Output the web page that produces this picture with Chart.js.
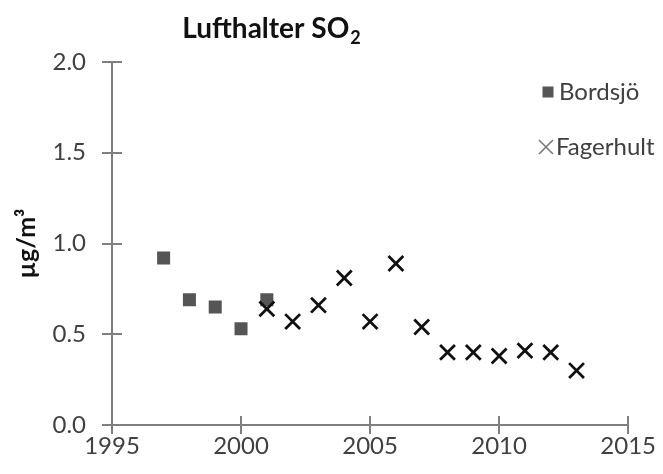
<!DOCTYPE html>
<html>
<head>
<meta charset="utf-8">
<script src="https://cdn.jsdelivr.net/npm/chart.js@4/dist/chart.umd.min.js"></script>
<style>
  html, body { margin: 0; padding: 0; background: #ffffff; }
  #wrap { width: 663px; height: 474px; position: relative; }
</style>
</head>
<body>
<div id="wrap"><canvas id="c" width="663" height="474"></canvas></div>
<script>
// Annual mean SO2 concentrations in air (µg/m³)
const bordsjoYears = [1997, 1998, 1999, 2000, 2001];
const bordsjoValues = [0.92, 0.69, 0.65, 0.53, 0.69];

const fagerhultYears = [2001, 2002, 2003, 2004, 2005, 2006, 2007, 2008, 2009, 2010, 2011, 2012, 2013];
const fagerhultValues = [0.64, 0.57, 0.66, 0.81, 0.57, 0.89, 0.54, 0.40, 0.40, 0.38, 0.41, 0.40, 0.30];

const xTicks = [1995, 2000, 2005, 2010, 2015];
const yTicks = [0.0, 0.5, 1.0, 1.5, 2.0];

const FONT = 'Lato, "Open Sans", sans-serif';
const AXIS_COLOR = '#7f7f7f';
const TEXT_COLOR = '#404040';

const toPoints = (xs, ys) => xs.map((x, i) => ({ x: x, y: ys[i] }));

// Excel-style "cross" tick marks on both axes
const crossTicks = {
  id: 'crossTicks',
  afterDraw(chart) {
    const { ctx, scales: { x, y } } = chart;
    ctx.save();
    ctx.strokeStyle = AXIS_COLOR;
    ctx.lineWidth = 2;
    ctx.beginPath();
    xTicks.forEach(v => {
      const px = Math.round(x.getPixelForValue(v));
      ctx.moveTo(px, y.bottom - 9);
      ctx.lineTo(px, y.bottom + 9);
    });
    yTicks.forEach(v => {
      const py = Math.round(y.getPixelForValue(v));
      ctx.moveTo(x.left - 10, py);
      ctx.lineTo(x.left + 10, py);
    });
    ctx.stroke();
    ctx.restore();
  }
};

// Title with a subscript "2"
const subTitle = {
  id: 'subTitle',
  afterDraw(chart) {
    const ctx = chart.ctx;
    ctx.save();
    ctx.fillStyle = '#111111';
    ctx.textBaseline = 'alphabetic';
    ctx.textAlign = 'left';
    const main = 'Lufthalter SO';
    ctx.font = 'bold 28px ' + FONT;
    const w1 = ctx.measureText(main).width;
    ctx.font = 'bold 18px ' + FONT;
    const w2 = ctx.measureText('2').width;
    const cx = 271;
    const x0 = cx - (w1 + w2) / 2;
    ctx.font = 'bold 28px ' + FONT;
    ctx.fillText(main, x0, 38);
    ctx.font = 'bold 18px ' + FONT;
    ctx.fillText('2', x0 + w1 + 1, 44);
    ctx.restore();
  }
};

// Legend drawn inside the top-right of the plot
const sideLegend = {
  id: 'sideLegend',
  afterDraw(chart) {
    const ctx = chart.ctx;
    const ds = chart.data.datasets;
    const bord = ds.find(d => d.label === 'Bordsjö');
    const fag = ds.find(d => d.label === 'Fagerhult');
    ctx.save();
    ctx.font = '24px ' + FONT;
    ctx.textBaseline = 'middle';
    ctx.textAlign = 'left';
    // square marker
    ctx.fillStyle = bord.backgroundColor;
    ctx.fillRect(542.5, 86.5, 11, 11);
    ctx.fillStyle = TEXT_COLOR;
    ctx.fillText(bord.label, 559, 92);
    // cross marker
    ctx.strokeStyle = '#7a7a7a';
    ctx.lineWidth = 1.6;
    ctx.beginPath();
    ctx.moveTo(539, 140); ctx.lineTo(553, 154);
    ctx.moveTo(553, 140); ctx.lineTo(539, 154);
    ctx.stroke();
    ctx.fillText(fag.label, 556, 147);
    ctx.restore();
  }
};

new Chart(document.getElementById('c'), {
  type: 'scatter',
  data: {
    datasets: [
      {
        label: 'Bordsjö',
        data: toPoints(bordsjoYears, bordsjoValues),
        pointStyle: 'rect',
        pointRadius: 9.2,
        pointHoverRadius: 9.2,
        backgroundColor: '#555555',
        borderColor: '#555555',
        borderWidth: 0,
        order: 1
      },
      {
        label: 'Fagerhult',
        data: toPoints(fagerhultYears, fagerhultValues),
        pointStyle: 'crossRot',
        pointRadius: 10.5,
        pointHoverRadius: 10.5,
        backgroundColor: '#111111',
        borderColor: '#111111',
        borderWidth: 2.8,
        order: 0
      }
    ]
  },
  options: {
    responsive: false,
    animation: false,
    events: [],
    layout: { padding: { left: 0, right: 11, top: 62, bottom: 0 } },
    plugins: {
      legend: { display: false },
      title: { display: false },
      tooltip: { enabled: false }
    },
    scales: {
      x: {
        type: 'linear',
        min: 1995,
        max: 2015,
        afterBuildTicks: s => { s.ticks = xTicks.map(v => ({ value: v })); },
        afterFit: s => { s.height = 49; },
        grid: { display: false, drawTicks: false },
        border: { display: true, color: AXIS_COLOR, width: 2 },
        ticks: {
          padding: 7,
          color: TEXT_COLOR,
          font: { family: FONT, size: 24 },
          callback: v => String(v)
        }
      },
      y: {
        type: 'linear',
        min: 0,
        max: 2,
        afterBuildTicks: s => { s.ticks = yTicks.map(v => ({ value: v })); },
        afterFit: s => { s.width = 112; },
        grid: { display: false, drawTicks: false },
        border: { display: true, color: AXIS_COLOR, width: 2 },
        title: {
          display: true,
          text: 'µg/m³',
          color: '#111111',
          font: { family: FONT, size: 25, weight: 'bold' },
          padding: { top: 12, bottom: 0 }
        },
        ticks: {
          padding: 26,
          color: TEXT_COLOR,
          font: { family: FONT, size: 24 },
          callback: v => Number(v).toFixed(1)
        }
      }
    }
  },
  plugins: [crossTicks, subTitle, sideLegend]
});
</script>
</body>
</html>
